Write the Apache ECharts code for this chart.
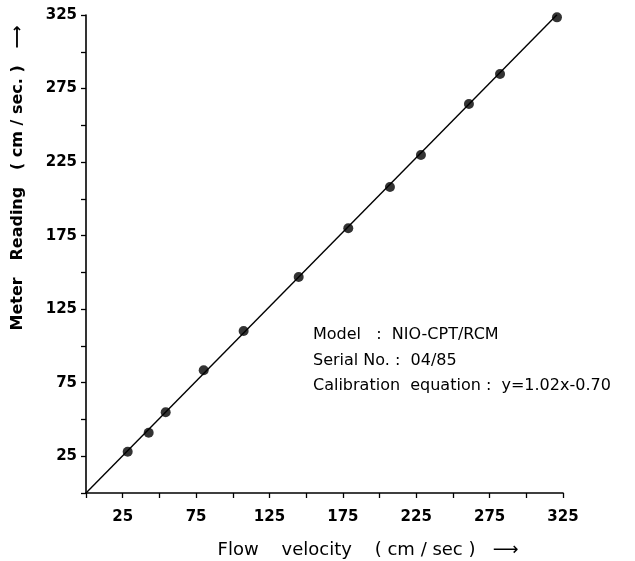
<!DOCTYPE html>
<html>
<head>
<meta charset="utf-8">
<script src="https://cdn.jsdelivr.net/npm/echarts@6/dist/echarts.min.js"></script>
<style>
  html, body { margin: 0; padding: 0; background: #fff; }
  #chart { width: 635px; height: 561px; }
</style>
</head>
<body>
<div id="chart"></div>
<script>
// measured calibration points (flow velocity vs meter reading, cm/sec)
var flowVelocity = [28.4, 42.7, 54.3, 80.2, 107.4, 144.9, 178.7, 207.1, 228.2, 260.9, 282.1, 320.9];
var meterReading = [28.1, 41.0, 54.9, 83.4, 110.1, 146.9, 180.0, 208.0, 229.8, 264.5, 284.9, 323.4];

// fitted line end points
var fitX = [0, 320.9];
var fitY = [0, 325.2];

// only every other tick carries a label
var tickLabels = [25, 75, 125, 175, 225, 275, 325];

var notes = [
    'Model   :  NIO-CPT/RCM',
    'Serial No. :  04/85',
    'Calibration  equation :  y=1.02x-0.70'
];

var ink = '#000';
var labelFont = 'DejaVu Sans';

function pairs(xs, ys) {
    return xs.map(function (x, i) { return [x, ys[i]]; });
}

function tickFormatter(v) {
    return tickLabels.indexOf(v) >= 0 ? String(v) : '';
}

var chart = echarts.init(document.getElementById('chart'));

var axisCommon = {
    type: 'value',
    min: 0,
    max: 325,
    interval: 25,
    splitLine: { show: false },
    axisLine: { show: true, lineStyle: { color: ink, width: 1.6 } },
    axisTick: { show: true, length: 5, lineStyle: { color: ink, width: 1.3 } },
    axisLabel: {
        formatter: tickFormatter,
        color: ink,
        fontFamily: labelFont,
        fontWeight: 'bold',
        fontSize: 15
    }
};

var option = {
    backgroundColor: '#fff',
    animation: false,
    grid: { left: 86, right: 72, top: 15, bottom: 68 },
    xAxis: Object.assign({}, axisCommon, {
        axisLabel: Object.assign({}, axisCommon.axisLabel, { margin: 17 })
    }),
    yAxis: Object.assign({}, axisCommon, {
        axisLabel: Object.assign({}, axisCommon.axisLabel, { margin: 9 })
    }),
    series: [
        {
            type: 'line',
            data: pairs(fitX, fitY),
            symbol: 'none',
            lineStyle: { color: ink, width: 1.4 },
            z: 2
        },
        {
            type: 'scatter',
            data: pairs(flowVelocity, meterReading),
            symbol: 'circle',
            symbolSize: 10,
            itemStyle: { color: ink },
            z: 3
        }
    ],
    graphic: [
        {
            type: 'text',
            x: 368, y: 550,
            style: {
                text: 'Flow    velocity    ( cm / sec )   \u27F6',
                fill: ink,
                font: '500 18px "DejaVu Sans"',
                textAlign: 'center',
                textVerticalAlign: 'middle'
            }
        },
        {
            type: 'text',
            x: 18, y: 178,
            rotation: Math.PI / 2,
            style: {
                text: 'Meter   Reading   ( cm / sec. )   \u27F6',
                fill: ink,
                font: 'bold 16px "DejaVu Sans"',
                textAlign: 'center',
                textVerticalAlign: 'middle'
            }
        },
        {
            type: 'text',
            left: 313, top: 327,
            style: { text: notes[0], fill: ink, font: '16px "DejaVu Sans"' }
        },
        {
            type: 'text',
            left: 313, top: 353,
            style: { text: notes[1], fill: ink, font: '16px "DejaVu Sans"' }
        },
        {
            type: 'text',
            left: 313, top: 378,
            style: { text: notes[2], fill: ink, font: '16px "DejaVu Sans"' }
        }
    ]
};

chart.setOption(option);
</script>
</body>
</html>
